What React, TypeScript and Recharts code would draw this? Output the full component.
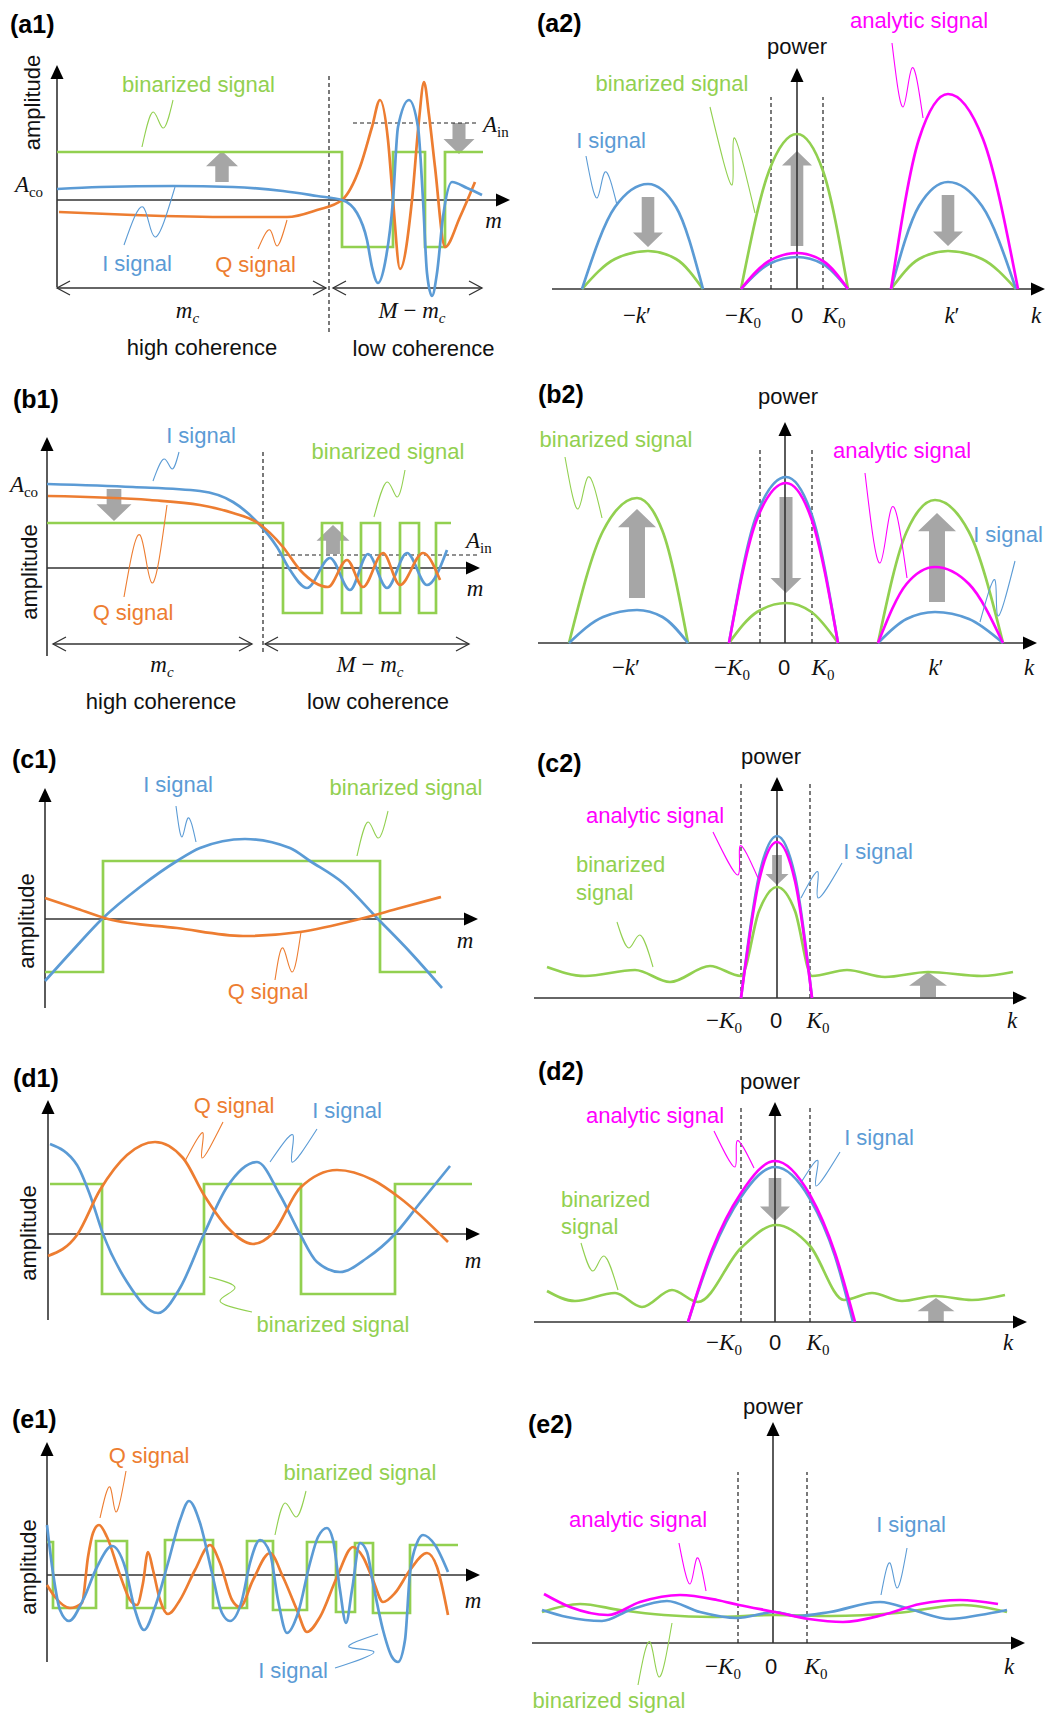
import React from "react";
import {
  ComposedChart,
  Line,
  XAxis,
  YAxis,
  ReferenceLine,
  ReferenceDot,
  ReferenceArea,
} from "recharts";

type Pt = [number, number];

// units: arbitrary, x = m or k, y = amplitude or power

// (a1) time domain, high then low coherence
const a1I: Pt[] = [[0, 1.1], [4.3, 1.3], [11.6, 1.4], [17.6, 1.3], [22.6, 0.9], [26, 0.4], [28.5, 0], [30, -1.3], [31, -4], [31.5, -6.7], [32.1, -8.3], [32.8, -6.3], [33.6, 0], [34.1, 7.3], [35.2, 10], [36.1, 7.3], [36.6, 0], [37, -7.3], [37.5, -9.6], [38, -7.3], [38.6, -1.7], [39.5, 1.8], [41, 1.2], [42.5, 0.5]];
const a1Q: Pt[] = [[0.2, -1.2], [7.6, -1.5], [17.6, -1.7], [23, -1.7], [26, -1], [28.5, 0], [30.3, 3.3], [31.5, 7.3], [32.3, 10], [33.1, 6], [33.6, 0], [34.3, -6.9], [35.5, 0], [36.2, 8], [36.7, 11.8], [37.2, 8.5], [37.8, 3.3], [38.8, -4.7], [40.3, -1.7], [41.8, 1.8]];
const a1Bin: Pt[] = [[0, 4.8], [28.5, 4.8], [28.5, -4.7], [33.6, -4.7], [33.6, 4.8], [36.8, 4.8], [36.8, -4.7], [38.8, -4.7], [38.8, 4.8], [42.6, 4.8]];
const a1LeadBin: Pt[] = [[8.5, 5.3], [9.6, 8.8], [10.6, 7.2], [11.6, 10]];
const a1LeadI: Pt[] = [[6.7, -4.5], [8.6, -0.7], [9.8, -3.7], [11.8, 1.3]];
const a1LeadQ: Pt[] = [[20.1, -4.9], [21.3, -3], [22, -4.6], [23, -2]];

// (a2) spectra
const a2BlueNeg: Pt[] = [[-21.5, 0], [-18.2, 8.2], [-14.9, 10.5], [-12.1, 8.2], [-9.4, 0]];
const a2GreenNeg: Pt[] = [[-21.5, 0], [-18.2, 3.0], [-14.9, 3.8], [-12.1, 3.0], [-9.4, 0]];
const a2GreenZero: Pt[] = [[-5.6, 0], [-2.8, 11.8], [0, 15.5], [2.6, 11.8], [5.1, 0]];
const a2BlueZero: Pt[] = [[-5.6, 0], [-2.8, 2.5], [0, 3.2], [2.6, 2.5], [5.1, 0]];
const a2MagZero: Pt[] = [[-5.6, 0], [-2.8, 2.8], [0, 3.6], [2.6, 2.8], [5.1, 0]];
const a2MagPos: Pt[] = [[9.4, 0], [12.2, 15.0], [15.1, 19.5], [18.6, 15.0], [22.1, 0]];
const a2BluePos: Pt[] = [[9.4, 0], [12.2, 8.3], [15.1, 10.7], [18.5, 8.3], [21.9, 0]];
const a2GreenPos: Pt[] = [[9.4, 0], [12.2, 3.0], [15.1, 3.8], [18.5, 3.0], [21.9, 0]];
const a2LeadMag: Pt[] = [[9.5, 24.6], [10.6, 18.2], [11.5, 22.1], [12.6, 17.1]];
const a2LeadBin: Pt[] = [[-8.7, 18.2], [-6.5, 10.4], [-6.3, 15.1], [-4.2, 7.6]];
const a2LeadI: Pt[] = [[-21.1, 13.3], [-20, 9.1], [-19.2, 11.7], [-18, 8.4]];

// (b1)
const b1I: Pt[] = [[0, 8.4], [8.6, 8.1], [15.3, 7.7], [18.6, 6.6], [21.1, 4.5], [23, 2.1], [24.3, -0.2], [26, -2], [28.3, 1], [30.3, -2.2], [32.1, 1.4], [34, -2], [36, 1.5], [38, -1.7], [40, 1.8]];
const b1Q: Pt[] = [[0.1, 7.2], [10.3, 6.8], [15.3, 6.3], [18.6, 5.5], [21.1, 4.5], [23.6, 2.1], [25.3, -0.2], [28.1, -1.9], [30, 0.8], [31.6, -1.9], [33.6, 1.5], [35.3, -1.7], [37.6, 1.5], [39.3, -1.2]];
const b1Bin: Pt[] = [[0, 4.5], [23.6, 4.5], [23.6, -4.5], [27.5, -4.5], [27.5, 4.5], [29.5, 4.5], [29.5, -4.5], [31.4, -4.5], [31.4, 4.5], [33.3, 4.5], [33.3, -4.5], [35.3, -4.5], [35.3, 4.5], [37.2, 4.5], [37.2, -4.5], [38.9, -4.5], [38.9, 4.5], [40.4, 4.5]];
const b1LeadI: Pt[] = [[10.6, 8.7], [11.7, 10.9], [12.5, 9.9], [13.2, 11.6]];
const b1LeadQ: Pt[] = [[7.7, -2.9], [9.3, 3.3], [10.5, -1.5], [12, 6.3]];
const b1LeadBin: Pt[] = [[32.7, 5.1], [34, 8.6], [35, 7.1], [35.8, 9.8]];

// (b2)
const b2GreenNeg: Pt[] = [[-21.6, 0], [-18.2, 11.2], [-14.8, 14.5], [-12.25, 11.2], [-9.7, 0]];
const b2BlueNeg: Pt[] = [[-21.6, 0], [-18.2, 2.6], [-14.8, 3.3], [-12.25, 2.6], [-9.7, 0]];
const b2BlueZero: Pt[] = [[-5.6, 0], [-2.8, 12.9], [0.1, 16.6], [2.65, 12.9], [5.3, 0]];
const b2MagZero: Pt[] = [[-5.6, 0], [-2.8, 12.4], [0.1, 16.0], [2.65, 12.4], [5.3, 0]];
const b2GreenZero: Pt[] = [[-5.6, 0], [-2.8, 3.1], [0.1, 4.0], [2.65, 3.1], [5.3, 0]];
const b2GreenPos: Pt[] = [[9.3, 0], [12.15, 11.1], [15.0, 14.3], [18.4, 11.1], [21.8, 0]];
const b2MagPos: Pt[] = [[9.3, 0], [12.15, 5.9], [15.0, 7.6], [18.4, 5.9], [21.8, 0]];
const b2BluePos: Pt[] = [[9.3, 0], [12.15, 2.4], [15.0, 3.1], [18.4, 2.4], [21.8, 0]];
const b2LeadBin: Pt[] = [[-22, 18.6], [-20.7, 13.4], [-19.7, 16.6], [-18.3, 12.5]];
const b2LeadMag: Pt[] = [[8, 17], [9.5, 8], [10.7, 13.6], [12.2, 6.5]];
const b2LeadI: Pt[] = [[19.5, 2.1], [21, 6.3], [21.3, 2.7], [23, 8.2]];

// (c1)
const c1I: Pt[] = [[0, -6.2], [2.8, -3.1], [5.7, 0], [9.5, 3.2], [13.2, 5.8], [15.5, 7.1], [20, 8.0], [24.5, 7.1], [26.5, 5.8], [29.8, 3.6], [33.3, 0], [36.5, -3.3], [39.7, -6.9]];
const c1Q: Pt[] = [[0, 2.1], [3, 1.1], [6.3, 0], [13.2, -0.9], [19.8, -1.7], [25.5, -1.3], [31.5, 0], [35.5, 1.1], [39.6, 2.2]];
const c1Bin: Pt[] = [[0, -5.3], [5.8, -5.3], [5.8, 5.8], [33.5, 5.8], [33.5, -5.3], [39.1, -5.3]];
const c1LeadI: Pt[] = [[13.1, 11.3], [13.7, 8.2], [14.3, 10.1], [15.1, 7.7]];
const c1LeadBin: Pt[] = [[31.2, 6.3], [32.3, 9.7], [33.3, 8.1], [34.3, 10.8]];
const c1LeadQ: Pt[] = [[23, -6.1], [23.8, -2.9], [24.7, -5.3], [25.6, -1.3]];

// (c2)
const c2Bin: Pt[] = [[-23, 3.1], [-19.2, 2.2], [-14.2, 2.8], [-10.7, 1.6], [-6.7, 3.2], [-3.6, 2.2], [-1.8, 8.7], [0, 11.1], [1.8, 8.7], [3.5, 2.2], [7.0, 2.8], [10.8, 2.1], [15.1, 2.6], [20.5, 2.2], [23.6, 2.6]];
const c2I: Pt[] = [[-3.6, 0], [-1.8, 12.2], [0, 16.2], [1.8, 12.2], [3.5, 0]];
const c2A: Pt[] = [[-3.6, 0], [-1.8, 11.7], [0, 15.6], [1.8, 11.7], [3.5, 0]];
const c2LeadMag: Pt[] = [[-6.4, 16.6], [-3.9, 12.3], [-3.7, 15.2], [-1.9, 12]];
const c2LeadI: Pt[] = [[2.4, 10], [4.1, 12.6], [4.1, 10], [6.5, 13.5]];
const c2LeadBin: Pt[] = [[-16, 7.6], [-14.8, 5], [-13.7, 6.3], [-12.4, 3.1]];

// (d1)
const d1I: Pt[] = [[0.2, 9.0], [2.9, 6.9], [4.2, 3.9], [5.5, 0], [7.9, -4.8], [11, -7.9], [13.2, -5.4], [15.6, 0], [17.9, 4.7], [20.9, 7.2], [23.2, 3.9], [25.2, 0], [26.9, -2.8], [29.2, -3.8], [31.9, -2.4], [34.7, 0], [37.2, 3.1], [40.2, 6.8]];
const d1Q: Pt[] = [[0, -2.2], [2.9, -0.1], [5.2, 4.4], [7.9, 7.9], [10.7, 9.2], [13.5, 7.6], [15.6, 3.9], [17.9, 0.7], [20.5, -1], [22.5, 0.1], [25.2, 4.6], [28.9, 6.4], [32.5, 5.4], [35.2, 3.6], [40, -0.8]];
const d1Bin: Pt[] = [[0.2, 5], [5.4, 5], [5.4, -6], [15.6, -6], [15.6, 5], [25.3, 5], [25.3, -6], [34.7, -6], [34.7, 5], [42.4, 5]];
const d1LeadQ: Pt[] = [[13.7, 7.3], [15.5, 10.1], [15.4, 7.6], [17.5, 11.2]];
const d1LeadI: Pt[] = [[22.2, 7.2], [24.5, 9.9], [24.4, 7.2], [26.9, 10.5]];
const d1LeadBin: Pt[] = [[16.1, -4.3], [18.7, -5.4], [17.2, -6.7], [20.4, -7.8]];

// (d2)
const d2A: Pt[] = [[-8.7, 0], [-6.3, 7.2], [-3.4, 12.9], [0, 16.1], [3.5, 12.7], [6.0, 6.9], [8.0, 0]];
const d2I: Pt[] = [[-8.7, 0], [-6.3, 6.9], [-3.4, 12.5], [0, 15.5], [3.5, 12.3], [6.0, 6.6], [7.8, 0]];
const d2Bin: Pt[] = [[-22.8, 3.1], [-20, 2.1], [-16, 2.9], [-13.3, 1.5], [-10.3, 3.2], [-7.7, 2.0], [-3.4, 7.4], [0.1, 9.7], [3.5, 7.6], [6.9, 2.2], [9.7, 2.9], [12.7, 2.1], [16, 2.6], [19.7, 2.2], [23, 2.7]];
const d2LeadMag: Pt[] = [[-6.1, 19.1], [-4, 15.5], [-3.8, 18.1], [-2.1, 15.4]];
const d2LeadI: Pt[] = [[2.7, 14.1], [4.3, 16.1], [4.1, 13.6], [6.5, 17]];
const d2LeadBin: Pt[] = [[-19.4, 7.9], [-18.2, 5.1], [-17.1, 6.6], [-15.7, 3.2]];

// (e1)
const e1I: Pt[] = [[0, 5.0], [0.6, 0.2], [1.3, -3.5], [2.2, -4.6], [3.6, -2.5], [5.0, 0.8], [6.5, 2.9], [7.8, 0.8], [8.8, -3.5], [9.7, -5.5], [10.8, -3.2], [12.1, 1.2], [13.3, 5.5], [14.2, 7.4], [15.3, 5.2], [16.5, 0.2], [17.5, -3.8], [18.3, -4.6], [19.5, -2.5], [20.3, 1.2], [21.3, 3.5], [22.3, 2.2], [23.1, -2.5], [24.0, -5.8], [25.1, -3.8], [26.3, 1.2], [27.1, 3.8], [28.0, 4.7], [28.6, 3.5], [29.3, -1.5], [29.9, -4.8], [30.5, -1.5], [31.3, 3.2], [32.0, 2.3], [32.6, -0.8], [33.6, -5.5], [34.5, -8.2], [35.1, -8.7], [35.8, -6.5], [36.3, 0.2], [37.0, 3.2], [37.6, 4.0], [38.8, 3.0], [40.1, 0.3]];
const e1Q: Pt[] = [[0, -1.0], [0.8, -2.2], [2.3, -3.3], [3.5, -2.8], [4.1, 1.8], [4.6, 4.2], [5.2, 5.0], [6.0, 3.8], [7.3, 0], [8.3, -2.5], [9.0, -3.0], [9.6, -0.8], [10.1, 2.3], [10.6, 0.5], [11.3, -2.5], [12.1, -3.9], [13.3, -2.5], [14.8, 0.5], [16.3, 3.0], [17.3, 1.2], [18.5, -2.5], [19.3, -3.2], [20.6, -0.5], [22.3, 2.2], [23.6, -0.2], [25.0, -3.5], [26.0, -5.7], [27.3, -4.2], [29.0, -0.2], [30.6, 2.8], [31.6, 1.8], [32.6, -0.5], [33.6, -2.7], [34.8, -1.8], [36.3, 0.5], [38.0, 2.2], [39.0, 0.8], [40.1, -4.0]];
const e1Bin: Pt[] = [[0, 3.3], [0.6, 3.3], [0.6, -3.3], [4.9, -3.3], [4.9, 3.4], [8.0, 3.4], [8.0, -3.3], [11.8, -3.3], [11.8, 3.5], [16.6, 3.5], [16.6, -3.3], [20.0, -3.3], [20.0, 3.4], [22.6, 3.4], [22.6, -3.5], [26.0, -3.5], [26.0, 3.3], [28.9, 3.3], [28.9, -3.7], [30.8, -3.7], [30.8, 3.2], [32.6, 3.2], [32.6, -3.8], [36.3, -3.8], [36.3, 3.0], [41.1, 3.0]];
const e1LeadQ: Pt[] = [[5.3, 5.7], [6.3, 8.8], [6.9, 6.3], [7.9, 10.4]];
const e1LeadBin: Pt[] = [[22.8, 4], [23.8, 7.2], [24.9, 5.8], [25.9, 8.4]];
const e1LeadI: Pt[] = [[28.8, -9.3], [32.7, -7.7], [30.2, -7.2], [33.1, -5.9]];

// (e2)
const e2A: Pt[] = [[-22.9, 4.9], [-20.3, 3.6], [-16.5, 2.8], [-13.3, 4.1], [-9.3, 4.8], [-5.6, 4.3], [-3.4, 3.8], [0.2, 3.1], [3.6, 2.4], [7.0, 2.1], [11.0, 2.8], [14.7, 3.9], [18.7, 4.3], [22.5, 3.9]];
const e2I: Pt[] = [[-23.1, 3.3], [-20.6, 2.6], [-17.1, 2.2], [-14.3, 3.3], [-10.6, 4.2], [-7.3, 3.1], [-3.6, 2.5], [0.2, 3.1], [2.4, 2.7], [5.7, 3.1], [10.7, 4.1], [14, 3.3], [17.7, 2.4], [20.7, 2.8], [23.4, 3.3]];
const e2Bin: Pt[] = [[-23.1, 3.1], [-19.3, 3.9], [-15.3, 3.3], [-10.9, 2.8], [-6, 2.6], [0.2, 2.8], [5.7, 2.7], [12.4, 3.0], [19, 3.8], [23.4, 3.1]];
const e2LeadMag: Pt[] = [[-9.4, 10], [-8.3, 5.9], [-7.6, 8.5], [-6.7, 5.2]];
const e2LeadI: Pt[] = [[10.8, 4.8], [11.7, 8], [12.4, 5.5], [13.4, 9.5]];
const e2LeadBin: Pt[] = [[-13.5, -4.2], [-12.3, 0.1], [-11.4, -3.4], [-10.1, 2.0]];

const BLUE = "#5B9BD5";
const ORANGE = "#ED7D31";
const GREEN = "#92D050";
const MAGENTA = "#FF00FF";
const GRAY = "#A6A6A6";
const INK = "#111";
const AXIS = "#333";
const SANS = "'Liberation Sans', Arial, Helvetica, sans-serif";
const SERIF = "'Liberation Serif', 'DejaVu Serif', 'Times New Roman', serif";

const toXY = (pts: Pt[]) => pts.map(([x, y]) => ({ x, y }));

const curve = (pts: Pt[], color: string, type: any = "monotone", width = 2.7) => (
  <Line
    data={toXY(pts)}
    dataKey="y"
    type={type}
    stroke={color}
    strokeWidth={width}
    dot={false}
    activeDot={false}
    legendType="none"
    isAnimationActive={false}
  />
);

const leader = (pts: Pt[], color: string) => curve(pts, color, "natural", 1.1);

const axisShape = (p: any) => {
  const { x1, y1, x2, y2 } = p;
  const a = Math.atan2(y2 - y1, x2 - x1);
  const L = 14;
  const W = 6.5;
  const bx = x2 - L * Math.cos(a);
  const by = y2 - L * Math.sin(a);
  const nx = -Math.sin(a) * W;
  const ny = Math.cos(a) * W;
  return (
    <g>
      <line x1={x1} y1={y1} x2={bx} y2={by} stroke={AXIS} strokeWidth={1.6} />
      <polygon points={`${x2},${y2} ${bx + nx},${by + ny} ${bx - nx},${by - ny}`} fill="#000" />
    </g>
  );
};

const axis = (x1: number, y1: number, x2: number, y2: number) => (
  <ReferenceLine segment={[{ x: x1, y: y1 }, { x: x2, y: y2 }]} ifOverflow="visible" shape={axisShape} />
);

const dashed = (x1: number, y1: number, x2: number, y2: number) => (
  <ReferenceLine
    segment={[{ x: x1, y: y1 }, { x: x2, y: y2 }]}
    ifOverflow="visible"
    stroke="#222"
    strokeWidth={1.2}
    strokeDasharray="4 3"
  />
);

const spanShape = (p: any) => {
  const { x1, y1, x2, y2 } = p;
  const L = 13;
  const W = 7;
  return (
    <g fill="none" stroke={AXIS} strokeWidth={1.3}>
      <line x1={x1} y1={y1} x2={x2} y2={y2} />
      <polyline points={`${x1 + L},${y1 - W} ${x1},${y1} ${x1 + L},${y1 + W}`} />
      <polyline points={`${x2 - L},${y2 - W} ${x2},${y2} ${x2 - L},${y2 + W}`} />
    </g>
  );
};

const span = (x1: number, x2: number, y: number) => (
  <ReferenceLine segment={[{ x: x1, y }, { x: x2, y }]} ifOverflow="visible" shape={spanShape} />
);

// thick gray arrow, tail at yTail, tip at yTip
const block = (x1: number, x2: number, yTail: number, yTip: number) => {
  const up = yTip > yTail;
  const shape = (p: any) => {
    const { x, y, width: w, height: h } = p;
    const cx = x + w / 2;
    const bw = w * 0.42;
    const hl = Math.min(w * 0.48, h * 0.55);
    const pts = up
      ? [[cx, y], [x + w, y + hl], [cx + bw / 2, y + hl], [cx + bw / 2, y + h], [cx - bw / 2, y + h], [cx - bw / 2, y + hl], [x, y + hl]]
      : [[cx, y + h], [x + w, y + h - hl], [cx + bw / 2, y + h - hl], [cx + bw / 2, y], [cx - bw / 2, y], [cx - bw / 2, y + h - hl], [x, y + h - hl]];
    return <polygon points={pts.map((q) => q.join(",")).join(" ")} fill={GRAY} />;
  };
  return (
    <ReferenceArea
      x1={x1}
      x2={x2}
      y1={Math.min(yTail, yTip)}
      y2={Math.max(yTail, yTip)}
      ifOverflow="visible"
      shape={shape}
    />
  );
};

interface NoteOpt {
  color?: string;
  size?: number;
  anchor?: "start" | "middle" | "end";
  bold?: boolean;
  serif?: boolean;
  rotate?: boolean;
}

const note = (x: number, y: number, content: React.ReactNode, o: NoteOpt = {}) => (
  <ReferenceDot
    x={x}
    y={y}
    r={0}
    ifOverflow="visible"
    shape={(p: any) => (
      <text
        x={p.cx}
        y={p.cy}
        textAnchor={o.anchor ?? "middle"}
        fill={o.color ?? INK}
        fontFamily={o.serif ? SERIF : SANS}
        fontSize={o.size ?? 22}
        fontWeight={o.bold ? 700 : 400}
        transform={o.rotate ? `rotate(-90 ${p.cx} ${p.cy})` : undefined}
        dominantBaseline={o.rotate ? "central" : undefined}
      >
        {content}
      </text>
    )}
  />
);

const it = (s: string) => <tspan fontStyle="italic">{s}</tspan>;
const sub = (s: string, italic = false) => (
  <tspan fontSize={15} dy={5} fontStyle={italic ? "italic" : "normal"}>
    {s}
  </tspan>
);
const math = (x: number, y: number, content: React.ReactNode, anchor: "start" | "middle" = "middle") =>
  note(x, y, content, { serif: true, size: 23, anchor });

const tag = (x: number, y: number, s: string) => note(x, y, s, { anchor: "start", bold: true, size: 25, color: "#000" });

const kTicks = (y: number, xs: { nk?: number; nK: number; z: number; K: number; k?: number; end: number }) => [
  xs.nk !== undefined ? math(xs.nk, y, <>{"\u2212"}{it("k")}{"\u2032"}</>) : null,
  math(xs.nK, y, <>{"\u2212"}{it("K")}{sub("0")}</>),
  note(xs.z, y, "0"),
  math(xs.K, y, <>{it("K")}{sub("0")}</>),
  xs.k !== undefined ? math(xs.k, y, <>{it("k")}{"\u2032"}</>) : null,
  math(xs.end, y, it("k")),
];

function Frame(props: {
  left: number;
  top: number;
  w: number;
  h: number;
  xd: [number, number];
  yd: [number, number];
  children: React.ReactNode;
}) {
  return (
    <div style={{ position: "absolute", left: props.left, top: props.top }}>
      <ComposedChart width={props.w} height={props.h} margin={{ top: 0, right: 0, bottom: 0, left: 0 }}>
        <XAxis type="number" dataKey="x" domain={props.xd} hide allowDataOverflow />
        <YAxis type="number" domain={props.yd} hide allowDataOverflow />
        {props.children}
      </ComposedChart>
    </div>
  );
}

function PanelA1() {
  return (
    <Frame left={0} top={0} w={525} h={365} xd={[-5.7, 46.8]} yd={[-16.5, 20]}>
      {axis(0, -8.7, 0, 13.5)}
      {axis(0, 0, 45.3, 0)}
      {dashed(27.2, -13.2, 27.2, 12.7)}
      {dashed(29.6, 7.7, 42, 7.7)}
      {span(0, 26.9, -8.8)}
      {span(27.6, 42.5, -8.8)}
      {curve(a1Bin, GREEN, "linear")}
      {curve(a1Q, ORANGE)}
      {curve(a1I, BLUE)}
      {leader(a1LeadBin, GREEN)}
      {leader(a1LeadI, BLUE)}
      {leader(a1LeadQ, ORANGE)}
      {block(14.9, 18.1, 1.8, 4.9)}
      {block(38.65, 41.75, 7.7, 4.6)}
      {tag(-4.7, 16.7, "(a1)")}
      {note(-2.5, 9.75, "amplitude", { rotate: true })}
      {note(14.15, 10.8, "binarized signal", { color: GREEN })}
      {note(8.0, -7.1, "I signal", { color: BLUE })}
      {note(19.85, -7.2, "Q signal", { color: ORANGE })}
      {math(-2.8, 0.83, <>{it("A")}{sub("co")}</>)}
      {math(42.6, 6.8, <>{it("A")}{sub("in")}</>, "start")}
      {math(43.65, -2.8, it("m"))}
      {math(13.05, -11.8, <>{it("m")}{sub("c", true)}</>)}
      {math(35.5, -11.8, <>{it("M")}{" \u2212 "}{it("m")}{sub("c", true)}</>)}
      {note(14.5, -15.5, "high coherence")}
      {note(36.65, -15.6, "low coherence")}
    </Frame>
  );
}

function PanelA2() {
  return (
    <Frame left={525} top={0} w={526} h={365} xd={[-27.2, 25.4]} yd={[-7.6, 28.9]}>
      {axis(0, 0, 0, 22.1)}
      {axis(-24.5, 0, 24.8, 0)}
      {dashed(-2.6, 0, -2.6, 19.2)}
      {dashed(2.6, 0, 2.6, 19.2)}
      {curve(a2GreenNeg, GREEN)}
      {curve(a2BlueNeg, BLUE)}
      {curve(a2GreenZero, GREEN)}
      {curve(a2BlueZero, BLUE)}
      {curve(a2MagZero, MAGENTA)}
      {curve(a2GreenPos, GREEN)}
      {curve(a2BluePos, BLUE)}
      {curve(a2MagPos, MAGENTA)}
      {leader(a2LeadMag, MAGENTA)}
      {leader(a2LeadBin, GREEN)}
      {leader(a2LeadI, BLUE)}
      {block(-16.4, -13.4, 9.2, 4.2)}
      {block(-1.5, 1.5, 4.3, 13.8)}
      {block(13.6, 16.6, 9.4, 4.3)}
      {tag(-26, 25.7, "(a2)")}
      {note(12.2, 26.1, "analytic signal", { color: MAGENTA })}
      {note(0, 23.5, "power")}
      {note(-12.5, 19.8, "binarized signal", { color: GREEN })}
      {note(-18.6, 14.1, "I signal", { color: BLUE })}
      {kTicks(-3.4, { nk: -16, nK: -5.4, z: 0, K: 3.7, k: 15.5, end: 23.9 })}
    </Frame>
  );
}

function PanelB1() {
  return (
    <Frame left={0} top={365} w={525} h={365} xd={[-4.7, 47.8]} yd={[-16.2, 20.3]}>
      {axis(0, -8.8, 0, 13.1)}
      {axis(0, 0, 43.3, 0)}
      {dashed(21.6, -8.4, 21.6, 11.8)}
      {dashed(23, 1.3, 43.3, 1.3)}
      {span(0.6, 20.5, -7.6)}
      {span(21.8, 42.2, -7.6)}
      {curve(b1Bin, GREEN, "linear")}
      {curve(b1I, BLUE)}
      {curve(b1Q, ORANGE)}
      {leader(b1LeadI, BLUE)}
      {leader(b1LeadQ, ORANGE)}
      {leader(b1LeadBin, GREEN)}
      {block(4.95, 8.45, 7.9, 4.7)}
      {block(26.95, 30.25, 1.4, 4.3)}
      {tag(-3.4, 16.0, "(b1)")}
      {note(15.4, 12.5, "I signal", { color: BLUE })}
      {note(34.1, 10.9, "binarized signal", { color: GREEN })}
      {note(-1.8, -0.4, "amplitude", { rotate: true })}
      {note(8.6, -5.2, "Q signal", { color: ORANGE })}
      {math(-2.3, 7.6, <>{it("A")}{sub("co")}</>)}
      {math(41.9, 2.0, <>{it("A")}{sub("in")}</>, "start")}
      {math(42.8, -2.8, it("m"))}
      {math(11.5, -10.4, <>{it("m")}{sub("c", true)}</>)}
      {math(32.3, -10.4, <>{it("M")}{" \u2212 "}{it("m")}{sub("c", true)}</>)}
      {note(11.4, -14.1, "high coherence")}
      {note(33.1, -14.1, "low coherence")}
    </Frame>
  );
}

function PanelB2() {
  return (
    <Frame left={525} top={365} w={526} h={365} xd={[-26, 26.6]} yd={[-8.7, 27.8]}>
      {axis(0, 0, 0, 22.1)}
      {axis(-24.7, 0, 25.2, 0)}
      {dashed(-2.5, 0, -2.5, 19.3)}
      {dashed(2.7, 0, 2.7, 19.3)}
      {curve(b2GreenNeg, GREEN)}
      {curve(b2BlueNeg, BLUE)}
      {curve(b2GreenZero, GREEN)}
      {curve(b2BlueZero, BLUE)}
      {curve(b2MagZero, MAGENTA)}
      {curve(b2GreenPos, GREEN)}
      {curve(b2BluePos, BLUE)}
      {curve(b2MagPos, MAGENTA)}
      {leader(b2LeadBin, GREEN)}
      {leader(b2LeadMag, MAGENTA)}
      {leader(b2LeadI, BLUE)}
      {block(-16.7, -12.9, 4.5, 13.4)}
      {block(-1.45, 1.65, 14.6, 5.0)}
      {block(13.3, 17.1, 4.1, 13.0)}
      {tag(-24.7, 24.0, "(b2)")}
      {note(0.3, 23.9, "power")}
      {note(-16.9, 19.6, "binarized signal", { color: GREEN })}
      {note(11.7, 18.5, "analytic signal", { color: MAGENTA })}
      {note(22.3, 10.1, "I signal", { color: BLUE })}
      {kTicks(-3.2, { nk: -15.9, nK: -5.3, z: -0.1, K: 3.8, k: 15.1, end: 24.4 })}
    </Frame>
  );
}

function PanelC1() {
  return (
    <Frame left={0} top={730} w={525} h={320} xd={[-4.5, 48]} yd={[-13.1, 18.9]}>
      {axis(0, -8.9, 0, 13.1)}
      {axis(0, 0, 43.3, 0)}
      {curve(c1Bin, GREEN, "linear")}
      {curve(c1I, BLUE)}
      {curve(c1Q, ORANGE)}
      {leader(c1LeadI, BLUE)}
      {leader(c1LeadBin, GREEN)}
      {leader(c1LeadQ, ORANGE)}
      {tag(-3.3, 15.1, "(c1)")}
      {note(13.3, 12.7, "I signal", { color: BLUE })}
      {note(36.1, 12.4, "binarized signal", { color: GREEN })}
      {note(-1.9, -0.2, "amplitude", { rotate: true })}
      {math(42, -2.9, it("m"))}
      {note(22.3, -8.0, "Q signal", { color: ORANGE })}
    </Frame>
  );
}

function PanelC2() {
  return (
    <Frame left={525} top={730} w={526} h={320} xd={[-25.2, 27.4]} yd={[-5.2, 26.8]}>
      {axis(0, 0, 0, 22.1)}
      {axis(-24.3, 0, 25, 0)}
      {dashed(-3.6, 0, -3.6, 21.6)}
      {dashed(3.3, 0, 3.3, 21.6)}
      {curve(c2Bin, GREEN)}
      {curve(c2I, BLUE)}
      {curve(c2A, MAGENTA)}
      {leader(c2LeadMag, MAGENTA)}
      {leader(c2LeadI, BLUE)}
      {leader(c2LeadBin, GREEN)}
      {block(-1.15, 1.15, 14.3, 11.3)}
      {block(13.2, 17.0, 0.1, 2.6)}
      {tag(-24, 22.6, "(c2)")}
      {note(-0.6, 23.4, "power")}
      {note(-12.2, 17.5, "analytic signal", { color: MAGENTA })}
      {note(10.1, 13.9, "I signal", { color: BLUE })}
      {note(-20.1, 12.6, "binarized", { color: GREEN, anchor: "start" })}
      {note(-20.1, 9.8, "signal", { color: GREEN, anchor: "start" })}
      {kTicks(-3.0, { nK: -5.3, z: -0.1, K: 4.1, end: 23.5 })}
    </Frame>
  );
}

function PanelD1() {
  return (
    <Frame left={0} top={1050} w={525} h={335} xd={[-4.8, 47.7]} yd={[-15.1, 18.4]}>
      {axis(0, -8.6, 0, 13.4)}
      {axis(0, 0, 43.2, 0)}
      {curve(d1Bin, GREEN, "linear")}
      {curve(d1I, BLUE)}
      {curve(d1Q, ORANGE)}
      {leader(d1LeadQ, ORANGE)}
      {leader(d1LeadI, BLUE)}
      {leader(d1LeadBin, GREEN)}
      {tag(-3.5, 14.7, "(d1)")}
      {note(18.6, 12.1, "Q signal", { color: ORANGE })}
      {note(29.9, 11.6, "I signal", { color: BLUE })}
      {note(-2.0, 0.1, "amplitude", { rotate: true })}
      {math(42.5, -3.4, it("m"))}
      {note(28.5, -9.8, "binarized signal", { color: GREEN })}
    </Frame>
  );
}

function PanelD2() {
  return (
    <Frame left={525} top={1050} w={526} h={335} xd={[-25, 27.6]} yd={[-6.3, 27.2]}>
      {axis(0, 0, 0, 22.0)}
      {axis(-24.1, 0, 25.2, 0)}
      {dashed(-3.4, 0, -3.4, 21.5)}
      {dashed(3.5, 0, 3.5, 21.5)}
      {curve(d2Bin, GREEN)}
      {curve(d2I, BLUE)}
      {curve(d2A, MAGENTA)}
      {leader(d2LeadMag, MAGENTA)}
      {leader(d2LeadI, BLUE)}
      {leader(d2LeadBin, GREEN)}
      {block(-1.5, 1.5, 14.4, 10.1)}
      {block(14.25, 17.95, 0, 2.4)}
      {tag(-23.7, 24.2, "(d2)")}
      {note(-0.5, 23.3, "power")}
      {note(-12, 19.9, "analytic signal", { color: MAGENTA })}
      {note(10.4, 17.7, "I signal", { color: BLUE })}
      {note(-21.4, 11.5, "binarized", { color: GREEN, anchor: "start" })}
      {note(-21.4, 8.8, "signal", { color: GREEN, anchor: "start" })}
      {kTicks(-2.8, { nK: -5.1, z: 0, K: 4.3, end: 23.3 })}
    </Frame>
  );
}

function PanelE1() {
  return (
    <Frame left={0} top={1385} w={525} h={331} xd={[-4.7, 47.8]} yd={[-14.1, 19]}>
      {axis(0, -8.7, 0, 13.3)}
      {axis(0, 0, 43.3, 0)}
      {curve(e1Bin, GREEN, "linear")}
      {curve(e1Q, ORANGE)}
      {curve(e1I, BLUE)}
      {leader(e1LeadQ, ORANGE)}
      {leader(e1LeadBin, GREEN)}
      {leader(e1LeadI, BLUE)}
      {tag(-3.5, 14.7, "(e1)")}
      {note(10.2, 11.2, "Q signal", { color: ORANGE })}
      {note(31.3, 9.5, "binarized signal", { color: GREEN })}
      {note(-1.9, 0.8, "amplitude", { rotate: true })}
      {math(42.6, -3.3, it("m"))}
      {note(24.6, -10.3, "I signal", { color: BLUE })}
    </Frame>
  );
}

function PanelE2() {
  return (
    <Frame left={525} top={1385} w={526} h={331} xd={[-24.8, 27.8]} yd={[-7.3, 25.8]}>
      {axis(0, 0, 0, 22.1)}
      {axis(-24.1, 0, 25.2, 0)}
      {dashed(-3.5, 0, -3.5, 17.1)}
      {dashed(3.4, 0, 3.4, 17.1)}
      {curve(e2Bin, GREEN)}
      {curve(e2I, BLUE)}
      {curve(e2A, MAGENTA)}
      {leader(e2LeadMag, MAGENTA)}
      {leader(e2LeadI, BLUE)}
      {leader(e2LeadBin, GREEN)}
      {tag(-24.5, 21.0, "(e2)")}
      {note(0, 22.9, "power")}
      {note(-13.5, 11.6, "analytic signal", { color: MAGENTA })}
      {note(13.8, 11.1, "I signal", { color: BLUE })}
      {kTicks(-3.1, { nK: -5.0, z: -0.2, K: 4.3, end: 23.6 })}
      {note(-16.4, -6.5, "binarized signal", { color: GREEN })}
    </Frame>
  );
}

export default function App() {
  return (
    <div style={{ position: "absolute", left: 0, top: 0, width: 1051, height: 1716, background: "#fff" }}>
      <PanelA1 />
      <PanelA2 />
      <PanelB1 />
      <PanelB2 />
      <PanelC1 />
      <PanelC2 />
      <PanelD1 />
      <PanelD2 />
      <PanelE1 />
      <PanelE2 />
    </div>
  );
}
